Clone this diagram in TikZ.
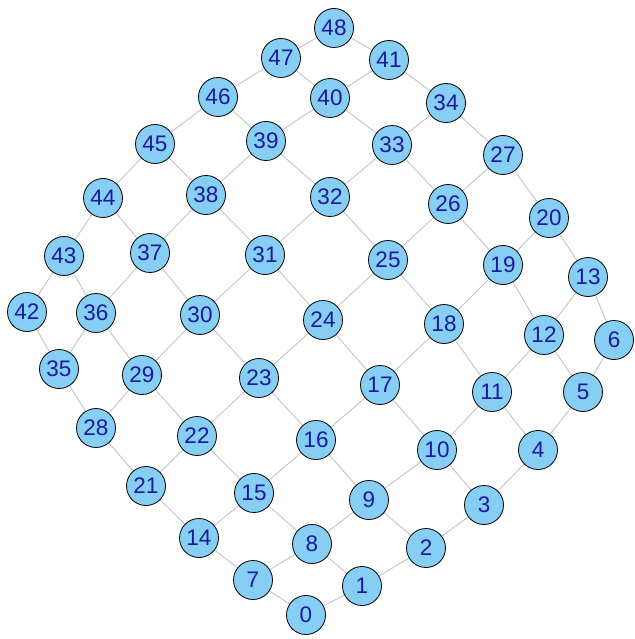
\documentclass[tikz,border=0pt]{standalone}
\usepackage{fontspec}
\setmainfont{Liberation Sans}
\definecolor{nodefill}{HTML}{87CEF5}
\definecolor{nodetext}{HTML}{1A1A9C}
\definecolor{edgecol}{HTML}{C4C4C4}
\begin{document}
\begin{tikzpicture}[x=1pt,y=-1pt,
  vert/.style={circle,draw=black,line width=0.8pt,fill=nodefill,minimum size=39pt,inner sep=0pt,text=nodetext,font=\fontsize{22.5}{22.5}\selectfont},
  edge/.style={draw=edgecol,line width=0.9pt}]
\useasboundingbox (0,0) rectangle (634,639);
\foreach \n/\x/\y in {
0/306/615, 1/362/586, 2/426/548, 3/484/505, 4/538/450, 5/583/392, 6/614/340,
7/253/580, 8/312/544, 9/369/500, 10/437/450, 11/492/392, 12/544/335, 13/588/277,
14/199/538, 15/254/493, 16/316/440, 17/380/385, 18/444/324, 19/503/265, 20/549/218,
21/146/486, 22/197/436, 23/259/378, 24/323/320, 25/388/260, 26/448/204, 27/503/155,
28/96/428, 29/142/375, 30/200/315, 31/265/255, 32/330/197, 33/392/145, 34/446/103,
35/59/369, 36/96/313, 37/150/253, 38/206/195, 39/266/141, 40/330/98, 41/389/60,
42/27/312, 43/64/256, 44/103/198, 45/155/144, 46/218/97, 47/281/58, 48/334/28}
  \coordinate (p\n) at (\x,\y);
% edges
\foreach \j in {0,...,6}{
  \foreach \i in {0,...,5}{
    \pgfmathtruncatemacro\a{7*\j+\i}
    \pgfmathtruncatemacro\b{7*\j+\i+1}
    \draw[edge] (p\a) -- (p\b);
  }
}
\foreach \j in {0,...,5}{
  \foreach \i in {0,...,6}{
    \pgfmathtruncatemacro\a{7*\j+\i}
    \pgfmathtruncatemacro\b{7*\j+\i+7}
    \draw[edge] (p\a) -- (p\b);
  }
}
\foreach \n in {0,...,48}
  \node[vert] (v\n) at (p\n) {\n};
\end{tikzpicture}
\end{document}
